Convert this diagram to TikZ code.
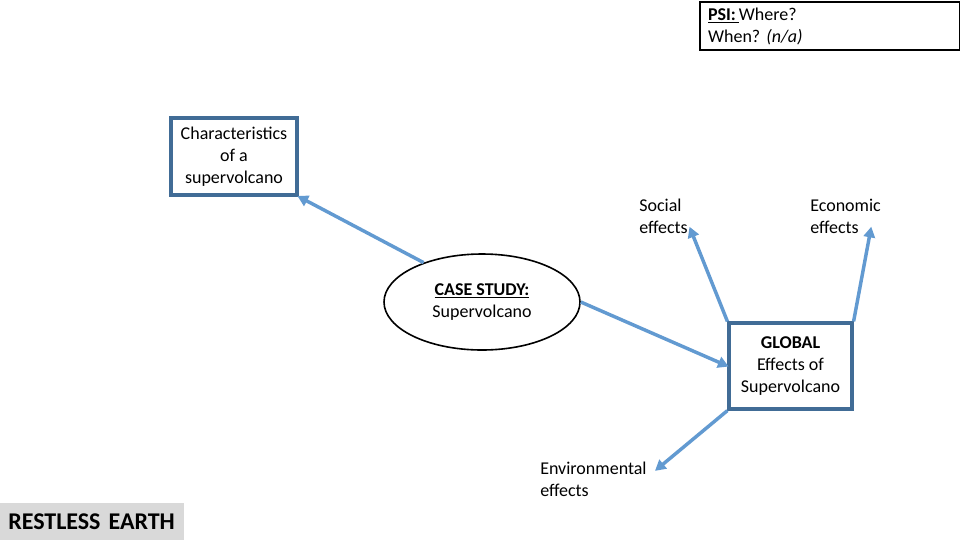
\documentclass[tikz,border=0pt]{standalone}
\usepackage{fontspec}
\setmainfont{Carlito}
\definecolor{boxblue}{RGB}{65, 108, 150}
\definecolor{arrowblue}{RGB}{98, 154, 209}
\definecolor{bargray}{RGB}{217, 217, 217}
\usepackage{tikz}
\usetikzlibrary{shapes.geometric, arrows.meta, positioning}
\frenchspacing
\newcommand{\tabfont}{\fontsize{18}{20}\selectfont\bfseries\spaceskip=0.17em\relax}

\begin{document}
\begin{tikzpicture}[x=0.75pt, y=-0.75pt,
    every node/.style={font=\fontsize{13.5}{16.5}\selectfont},
    bluebox/.style={draw=boxblue, line width=2.4pt, align=center, inner sep=2pt},
    plain/.style={align=left, inner sep=0pt, anchor=west},
    arr/.style={draw=arrowblue, line width=2.6pt, -{Triangle[length=8pt, width=8.5pt]}, shorten >=-1pt}]
  \useasboundingbox (0,0) rectangle (960,540);

  % question box, top right
  \node[draw=black, line width=1.6pt, anchor=north west, minimum width=195pt, minimum height=36pt,
        text width=183pt, inner xsep=5pt, align=left] (psi) at (699,1) {
    \underline{\textbf{PSI:}\,}Where?\\
    When? \textit{(n/a)}
  };

  % main nodes
  \node[bluebox, minimum width=94.5pt, minimum height=57.75pt] (chars) at (234,156.5) {
    Characteristics\\of a\\supervolcano
  };
  \node[draw=black, line width=1.2pt, ellipse, minimum width=147pt, minimum height=72pt,
        align=center] (case) at (482,302) {
    \underline{\textbf{CASE STUDY:}}\\Supervolcano
  };
  \node[bluebox, minimum width=92.25pt, minimum height=64.5pt] (global) at (790.5,366) {
    \textbf{GLOBAL}\\Effects of\\Supervolcano
  };

  % effect labels
  \node[plain] (social) at (639,216) {Social\\effects};
  \node[plain] (econ) at (810,216) {Economic\\effects};
  \node[plain] (env) at (540,479) {Environmental\\effects};
  \coordinate (socialtip) at (690,228);
  \coordinate (econtip) at (871,228);
  \coordinate (envtip) at (656,470);

  % footer tab
  \node[fill=bargray, anchor=south west, minimum width=138pt, minimum height=27.75pt,
        text width=126pt, inner xsep=6pt, align=left, font=\tabfont] (tab) at (0,540) {RESTLESS EARTH};

  % arrows
  \draw[arr] (case.146) -- (chars.south east);
  \draw[arr] (case.east) -- (global.west);
  \draw[arr] (global.north west) -- (socialtip);
  \draw[arr] (global.north east) -- (econtip);
  \draw[arr] (global.south west) -- (envtip);
\end{tikzpicture}
\end{document}
